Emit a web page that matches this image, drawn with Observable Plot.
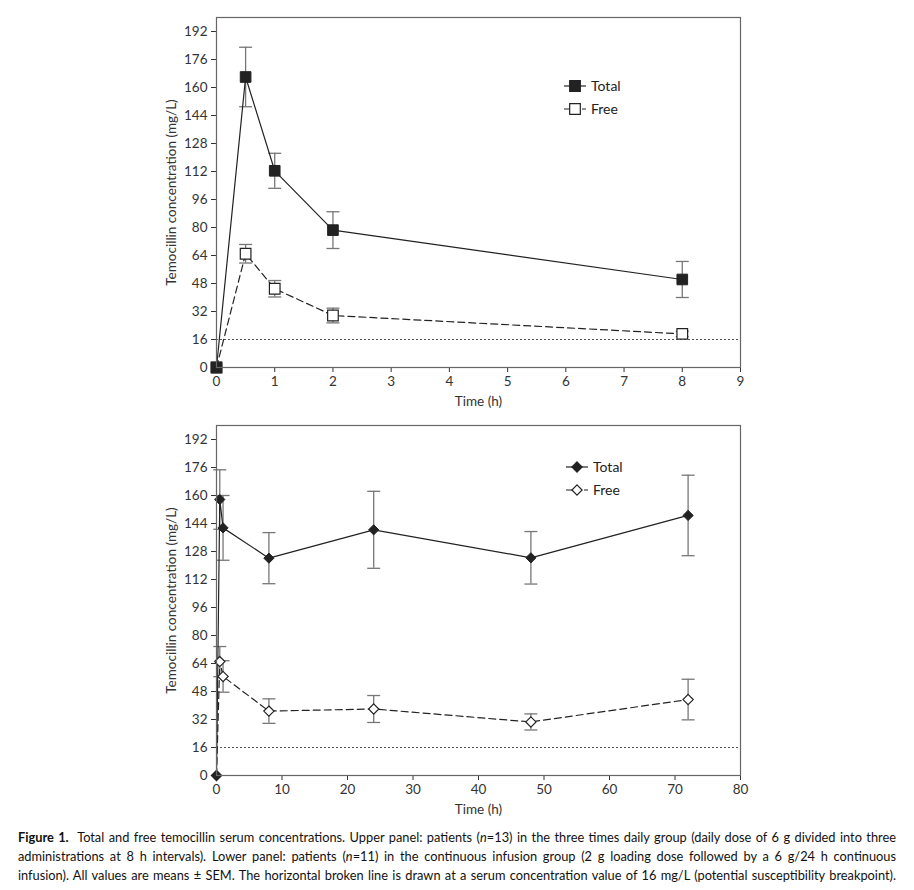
<!DOCTYPE html>
<html><head><meta charset="utf-8">
<script src="https://cdn.jsdelivr.net/npm/d3@7"></script>
<script src="https://cdn.jsdelivr.net/npm/@observablehq/plot@0.6"></script>
<style>
body{margin:0;background:#fff;font-family:Lato,"Open Sans",sans-serif;}
#wrap{position:relative;width:914px;height:890px;overflow:hidden;}
.panel{position:absolute;left:0;}
.legend{position:absolute;}
#caption{position:absolute;left:18px;top:828px;width:878px;font-size:12.8px;line-height:19px;color:#111;}
#caption .ln{white-space:nowrap;text-align:justify;text-align-last:justify;width:878px;}
</style></head>
<body><div id="wrap">
<div id="upper" class="panel" style="top:0"></div>
<div id="lower" class="panel" style="top:408px"></div>
<svg id="legUpper" class="legend" width="90" height="50" style="left:558px;top:74px"></svg>
<svg id="legLower" class="legend" width="90" height="50" style="left:560px;top:455px"></svg>
<div id="caption">
<div class="ln"><b>Figure 1.</b>&nbsp; Total and free temocillin serum concentrations. Upper panel: patients (<i>n</i>=13) in the three times daily group (daily dose of 6 g divided into three</div>
<div class="ln">administrations at 8 h intervals). Lower panel: patients (<i>n</i>=11) in the continuous infusion group (2 g loading dose followed by a 6 g/24 h continuous</div>
<div class="ln">infusion). All values are means ± SEM. The horizontal broken line is drawn at a serum concentration value of 16 mg/L (potential susceptibility breakpoint).</div>
</div>
</div>
<script>
// ---- data ----
const upperTime = [0, 0.5, 1, 2, 8];
const upperTotal = [0, 166, 112.4, 78.5, 50.3];
const upperTotalSem = [0, 17, 10, 10.5, 10.3];
const upperFree = [0, 65, 45, 29.7, 19.2];
const upperFreeSem = [0, 5.3, 4.7, 4.2, 1.5];

const lowerTime = [0, 0.5, 1, 8, 24, 48, 72];
const lowerTotal = [0, 157.7, 141.5, 124.2, 140.4, 124.4, 148.6];
const lowerTotalSem = [0, 17, 18.5, 14.6, 22, 15, 23];
const lowerFree = [0, 65.1, 56.6, 36.8, 38, 30.6, 43.4];
const lowerFreeSem = [0, 8.6, 9, 7, 7.7, 4.6, 11.6];

const yTicks = [0, 16, 32, 48, 64, 80, 96, 112, 128, 144, 160, 176, 192];
const upperXTicks = [0, 1, 2, 3, 4, 5, 6, 7, 8, 9];
const lowerXTicks = [0, 10, 20, 30, 40, 50, 60, 70, 80];
const breakpoint = 16;
const seriesNames = ["Total", "Free"];

// ---- drawing ----
const INK = "#222";
const capSymbol = {draw(ctx) { ctx.moveTo(-6.5, 0); ctx.lineTo(6.5, 0); }};

function panel(time, total, totalSem, free, freeSem, xDomain, xTicks, symbol, r) {
  const rows = time.map((t, i) => ({t, total: total[i], totalSem: totalSem[i], free: free[i], freeSem: freeSem[i]}));
  const err = [];
  rows.forEach(d => {
    if (d.totalSem > 0) err.push({t: d.t, lo: d.total - d.totalSem, hi: d.total + d.totalSem});
    if (d.freeSem > 0) err.push({t: d.t, lo: d.free - d.freeSem, hi: d.free + d.freeSem});
  });
  const caps = err.flatMap(e => [{t: e.t, v: e.lo}, {t: e.t, v: e.hi}]);
  return Plot.plot({
    width: 914, height: 415,
    marginLeft: 216, marginRight: 174, marginTop: 17, marginBottom: 48,
    style: {fontFamily: "Lato, 'Open Sans', sans-serif", fontSize: "13.5px", color: "#333", background: "transparent"},
    x: {domain: xDomain, ticks: xTicks, tickSize: 5, tickFormat: d => String(d), label: "Time (h)", labelAnchor: "center", labelOffset: 38, labelArrow: "none"},
    y: {domain: [0, 200], ticks: yTicks, tickSize: 5, tickFormat: d => String(d), label: "Temocillin concentration (mg/L)", labelAnchor: "center", labelOffset: 50, labelArrow: "none"},
    marks: [
      Plot.ruleY([breakpoint], {stroke: "#555", strokeDasharray: "2,2", strokeWidth: 1}),
      Plot.ruleX(err, {x: "t", y1: "lo", y2: "hi", stroke: "#777", strokeWidth: 1.3}),
      Plot.dot(caps, {x: "t", y: "v", symbol: capSymbol, fill: "none", stroke: "#777", strokeWidth: 1.3}),
      Plot.line(rows, {x: "t", y: "total", stroke: INK, strokeWidth: 1.2}),
      Plot.line(rows, {x: "t", y: "free", stroke: INK, strokeWidth: 1.2, strokeDasharray: "7,4"}),
      Plot.dot(rows, {x: "t", y: "free", symbol, r, fill: "white", stroke: INK, strokeWidth: 1.2}),
      Plot.dot(rows, {x: "t", y: "total", symbol, r, fill: INK, stroke: INK, strokeWidth: 1}),
      Plot.frame({stroke: "#666", strokeWidth: 1.2})
    ]
  });
}

document.getElementById("upper").append(
  panel(upperTime, upperTotal, upperTotalSem, upperFree, upperFreeSem, [0, 9], upperXTicks, "square", 6)
);
document.getElementById("lower").append(
  panel(lowerTime, lowerTotal, lowerTotalSem, lowerFree, lowerFreeSem, [0, 80], lowerXTicks, "diamond2", 4.6)
);

function legend(id, symType, size) {
  const svg = d3.select("#" + id);
  const sym = d3.symbol().type(symType).size(size);
  seriesNames.forEach((name, i) => {
    const y = 12 + i * 23;
    const g = svg.append("g").attr("transform", `translate(0,${y})`);
    g.append("line").attr("x1", 6).attr("x2", 28).attr("y1", 0).attr("y2", 0)
      .attr("stroke", INK).attr("stroke-width", 1.2).attr("stroke-dasharray", i ? "6,3" : null);
    g.append("path").attr("d", sym()).attr("transform", "translate(17,0)")
      .attr("fill", i ? "white" : INK).attr("stroke", INK).attr("stroke-width", 1.2);
    g.append("text").attr("x", 33).attr("y", 0).attr("dy", "0.35em")
      .attr("font-family", "Lato, 'Open Sans', sans-serif").attr("font-size", 14).attr("fill", "#222").text(name);
  });
}
legend("legUpper", d3.symbolSquare, 113);
legend("legLower", d3.symbolDiamond2, 66);

// fit caption lines
document.querySelectorAll("#caption .ln").forEach(el => {
  el.style.display = "inline-block"; el.style.width = "auto";
  const w = el.getBoundingClientRect().width;
  if (w > 878) el.style.letterSpacing = ((878 - w) / el.textContent.length) + "px";
  el.style.display = "block"; el.style.width = "878px";
});
</script>
</body></html>
